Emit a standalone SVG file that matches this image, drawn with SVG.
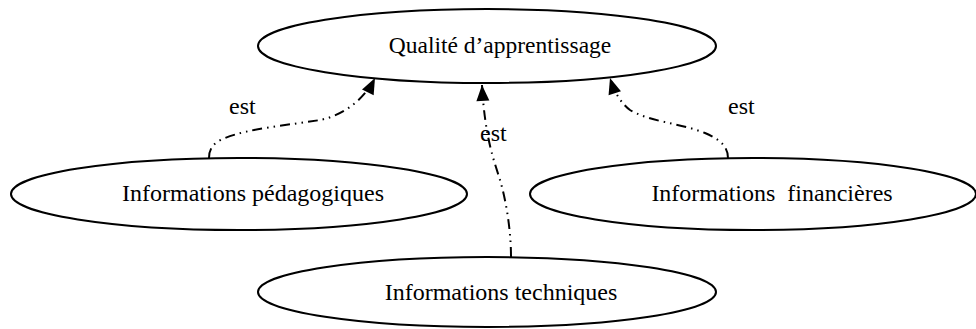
<svg xmlns="http://www.w3.org/2000/svg" width="976" height="329" viewBox="0 0 976 329">
<style>
.node ellipse{fill:#fff;stroke:#000;stroke-width:2}
.node text{font-family:"Liberation Serif","Times New Roman",serif;font-size:24px;fill:#000;text-anchor:middle}
.edge{fill:none;stroke:#000;stroke-width:2;stroke-dasharray:10,5,1.5,5,1.5,5}
.lbl{font-family:"Liberation Serif","Times New Roman",serif;font-size:24px;fill:#000}
</style>
<defs>
<marker id="arr" markerUnits="userSpaceOnUse" markerWidth="18" markerHeight="14" refX="16" refY="6.5" orient="auto" overflow="visible">
<path d="M0,0 L16,6.5 L0,13 z" fill="#000"/>
</marker>
</defs>
<rect width="976" height="329" fill="#fff"/>
<g id="n-qualite" class="node">
<ellipse cx="487" cy="46" rx="229" ry="37"/>
<text x="500" y="53" style="font-size:23.5px">Qualité d’apprentissage</text>
</g>
<g id="n-pedagogiques" class="node">
<ellipse cx="239" cy="194" rx="228" ry="36"/>
<text x="253" y="201">Informations pédagogiques</text>
</g>
<g id="n-financieres" class="node">
<ellipse cx="753" cy="194" rx="223" ry="36"/>
<text x="772" y="201" xml:space="preserve">Informations  financières</text>
</g>
<g id="n-techniques" class="node">
<ellipse cx="487" cy="292" rx="229" ry="35"/>
<text x="501" y="300">Informations techniques</text>
</g>
<g id="connectors">
<path class="edge" d="M209,158 C209,150 212,143 225,138 C250,128 290,125 320,120 C345,115 365,98 375,78" marker-end="url(#arr)"/>
<path class="edge" d="M511,257 C511,230 506,200 500,180 C495,163 485,140 482,85" marker-end="url(#arr)"/>
<path class="edge" d="M728,158 C728,148 722,140 705,133 C680,123 650,122 630,110 C622,104 615,94 610,78" marker-end="url(#arr)"/>
<text class="lbl" x="229" y="114">est</text>
<text class="lbl" x="480" y="141">est</text>
<text class="lbl" x="728" y="114">est</text>
</g>
</svg>
